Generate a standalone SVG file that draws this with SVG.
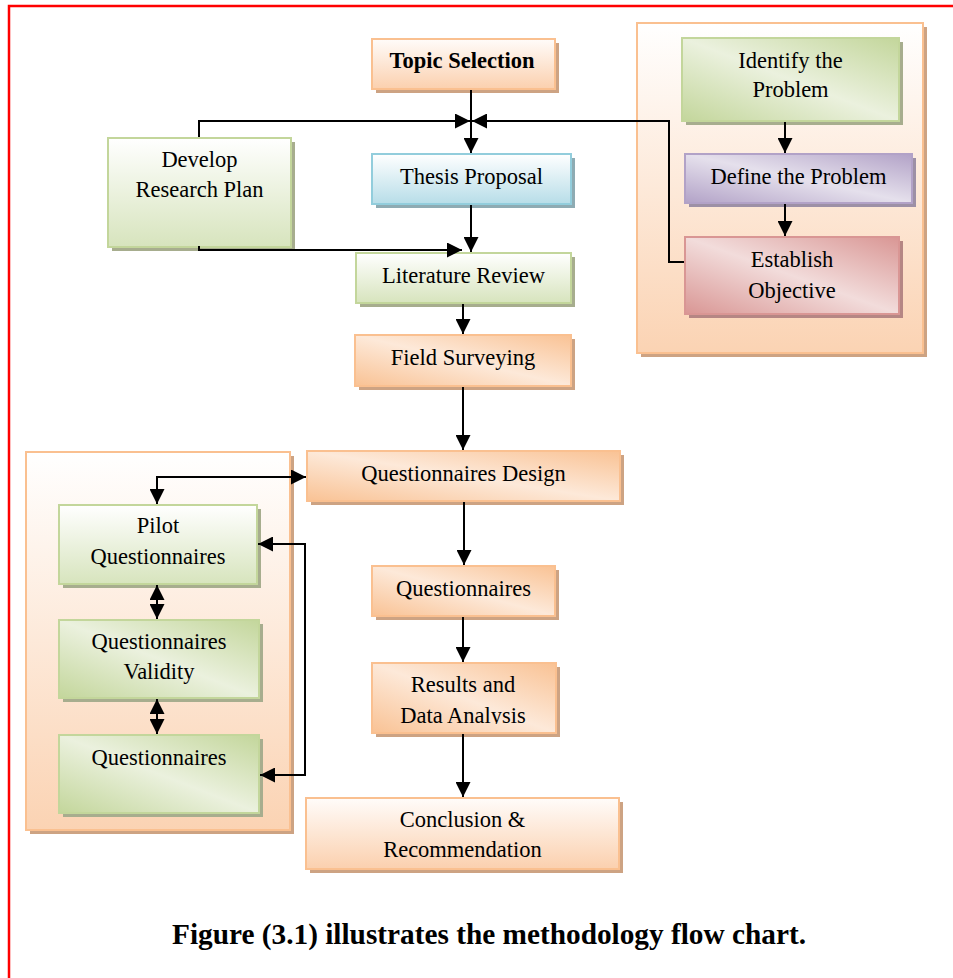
<svg xmlns="http://www.w3.org/2000/svg" width="953" height="978" viewBox="0 0 953 978">
<style>
text{font-family:"Liberation Serif","Times New Roman",serif;font-size:22.5px;fill:#000;text-anchor:middle}
.b{font-weight:bold}
.cap{font-weight:bold;font-size:30px}
.conn{fill:none;stroke:#000;stroke-width:2}
.o{stroke:#fac090;stroke-width:2}
.g{stroke:#c3d69b;stroke-width:2}
.bl{stroke:#92cddc;stroke-width:2}
.pu{stroke:#b2a2c7;stroke-width:2}
.rd{stroke:#d99694;stroke-width:2}
.so{fill:#cda383}
.sg{fill:#a7ad8e}
.sb{fill:#8eabb3}
.sp{fill:#9d90a6}
.sr{fill:#b58684}
</style>
<defs>
<linearGradient id="oV" x1="0" y1="0" x2="0" y2="1"><stop offset="0" stop-color="#fffcfa"/><stop offset="1" stop-color="#fbd0ae"/></linearGradient>
<linearGradient id="oD" x1="0" y1="1" x2="1" y2="0"><stop offset="0" stop-color="#f9c294"/><stop offset="0.5" stop-color="#fde9d9"/><stop offset="1" stop-color="#f9c294"/></linearGradient>
<linearGradient id="gV" x1="0" y1="0" x2="0" y2="1"><stop offset="0" stop-color="#ffffff"/><stop offset="1" stop-color="#d7e4bd"/></linearGradient>
<linearGradient id="gD" x1="0" y1="1" x2="1" y2="0"><stop offset="0" stop-color="#c3d69b"/><stop offset="0.5" stop-color="#ebf1de"/><stop offset="1" stop-color="#c3d69b"/></linearGradient>
<linearGradient id="bV" x1="0" y1="0" x2="0" y2="1"><stop offset="0" stop-color="#ffffff"/><stop offset="1" stop-color="#b7dde8"/></linearGradient>
<linearGradient id="pD" x1="0" y1="1" x2="1" y2="0"><stop offset="0" stop-color="#b2a2c7"/><stop offset="0.5" stop-color="#e5e0ec"/><stop offset="1" stop-color="#b2a2c7"/></linearGradient>
<linearGradient id="rD" x1="0" y1="1" x2="1" y2="0"><stop offset="0" stop-color="#d99694"/><stop offset="0.5" stop-color="#f2dcdb"/><stop offset="1" stop-color="#d99694"/></linearGradient>
<linearGradient id="cV" x1="0" y1="0" x2="0" y2="1"><stop offset="0" stop-color="#ffffff"/><stop offset="1" stop-color="#fbd3b3"/></linearGradient>
<marker id="ah" markerUnits="userSpaceOnUse" markerWidth="15" markerHeight="15" refX="15" refY="7.5" orient="auto-start-reverse" viewBox="0 0 15 15"><path d="M0,0 L15,7.5 L0,15 z" fill="#000"/></marker>
<clipPath id="clipRes"><rect x="372" y="663" width="184" height="61"/></clipPath>
</defs>

<rect x="9" y="6" width="960" height="990" fill="none" stroke="#ff0000" stroke-width="2.5"/>

<g id="group-right">
<rect x="641" y="27" width="286" height="330" class="so"/>
<rect x="637" y="23" width="286" height="330" fill="url(#cV)" class="o"/>
</g>
<g id="group-left">
<rect x="30" y="456" width="264" height="378" class="so"/>
<rect x="26" y="452" width="264" height="378" fill="url(#cV)" class="o"/>
</g>

<g id="topic-selection">
<rect x="376" y="43" width="183" height="50" class="so"/>
<rect x="372" y="39" width="183" height="50" fill="url(#oV)" class="o"/>
<text class="b" x="462" y="68">Topic Selection</text>
</g>
<g id="thesis-proposal">
<rect x="376" y="158" width="199" height="50" class="sb"/>
<rect x="372" y="154" width="199" height="50" fill="url(#bV)" class="bl"/>
<text x="471.5" y="184">Thesis Proposal</text>
</g>
<g id="develop-research-plan">
<rect x="112" y="142" width="183" height="109" class="sg"/>
<rect x="108" y="138" width="183" height="109" fill="url(#gV)" class="g"/>
<text x="199.5" y="167">Develop</text>
<text x="199.5" y="197">Research Plan</text>
</g>
<g id="literature-review">
<rect x="360" y="257" width="215" height="50" class="sg"/>
<rect x="356" y="253" width="215" height="50" fill="url(#gV)" class="g"/>
<text x="463.5" y="283">Literature Review</text>
</g>
<g id="field-surveying">
<rect x="359" y="339" width="216" height="51" class="so"/>
<rect x="355" y="335" width="216" height="51" fill="url(#oD)" class="o"/>
<text x="463" y="365">Field Surveying</text>
</g>
<g id="identify-problem">
<rect x="686" y="42" width="217" height="83" class="sg"/>
<rect x="682" y="38" width="217" height="83" fill="url(#gD)" class="g"/>
<text x="790.5" y="68">Identify the</text>
<text x="790.5" y="97">Problem</text>
</g>
<g id="define-problem">
<rect x="689" y="158" width="227" height="49" class="sp"/>
<rect x="685" y="154" width="227" height="49" fill="url(#pD)" class="pu"/>
<text x="798.5" y="184">Define the Problem</text>
</g>
<g id="establish-objective">
<rect x="689" y="241" width="214" height="77" class="sr"/>
<rect x="685" y="237" width="214" height="77" fill="url(#rD)" class="rd"/>
<text x="792" y="267">Establish</text>
<text x="792" y="298">Objective</text>
</g>
<g id="questionnaires-design">
<rect x="311" y="455" width="313" height="50" class="so"/>
<rect x="307" y="451" width="313" height="50" fill="url(#oD)" class="o"/>
<text x="463.5" y="481">Questionnaires Design</text>
</g>
<g id="pilot-questionnaires">
<rect x="63" y="509" width="198" height="79" class="sg"/>
<rect x="59" y="505" width="198" height="79" fill="url(#gV)" class="g"/>
<text x="158" y="533">Pilot</text>
<text x="158" y="564">Questionnaires</text>
</g>
<g id="questionnaires-validity">
<rect x="63" y="624" width="200" height="78" class="sg"/>
<rect x="59" y="620" width="200" height="78" fill="url(#gD)" class="g"/>
<text x="159" y="649">Questionnaires</text>
<text x="159" y="679">Validity</text>
</g>
<g id="questionnaires-left">
<rect x="63" y="739" width="200" height="78" class="sg"/>
<rect x="59" y="735" width="200" height="78" fill="url(#gD)" class="g"/>
<text x="159" y="765">Questionnaires</text>
</g>
<g id="questionnaires">
<rect x="376" y="570" width="183" height="50" class="so"/>
<rect x="372" y="566" width="183" height="50" fill="url(#oD)" class="o"/>
<text x="463.5" y="596">Questionnaires</text>
</g>
<g id="results-analysis">
<rect x="376" y="667" width="184" height="70" class="so"/>
<rect x="372" y="663" width="184" height="70" fill="url(#oD)" class="o"/>
<g clip-path="url(#clipRes)">
<text x="463" y="692">Results and</text>
<text x="463" y="723">Data Analysis</text>
</g>
</g>
<g id="conclusion">
<rect x="310" y="802" width="313" height="71" class="so"/>
<rect x="306" y="798" width="313" height="71" fill="url(#oV)" class="o"/>
<text x="462.5" y="827">Conclusion &amp;</text>
<text x="462.5" y="857">Recommendation</text>
</g>

<g id="connectors">
<path class="conn" d="M471,90 V153" marker-end="url(#ah)"/>
<path class="conn" d="M199,137 V121 H470" marker-end="url(#ah)"/>
<path class="conn" d="M684,262 H669 V121 H472" marker-end="url(#ah)"/>
<path class="conn" d="M471,205 V252" marker-end="url(#ah)"/>
<path class="conn" d="M199,246 V250 H462" marker-end="url(#ah)"/>
<path class="conn" d="M463,304 V334" marker-end="url(#ah)"/>
<path class="conn" d="M463,387 V450" marker-end="url(#ah)"/>
<path class="conn" d="M464,502 V565" marker-end="url(#ah)"/>
<path class="conn" d="M463,617 V662" marker-end="url(#ah)"/>
<path class="conn" d="M463,734 V797" marker-end="url(#ah)"/>
<path class="conn" d="M785,122 V153" marker-end="url(#ah)"/>
<path class="conn" d="M785,204 V236" marker-end="url(#ah)"/>
<path class="conn" d="M306,477 H157 V504" marker-start="url(#ah)" marker-end="url(#ah)"/>
<path class="conn" d="M157,585 V619" marker-start="url(#ah)" marker-end="url(#ah)"/>
<path class="conn" d="M157,699 V734" marker-start="url(#ah)" marker-end="url(#ah)"/>
<path class="conn" d="M258,544 H305 V775 H260" marker-start="url(#ah)" marker-end="url(#ah)"/>
</g>

<text class="cap" x="489" y="944" textLength="634" lengthAdjust="spacingAndGlyphs">Figure (3.1) illustrates the methodology flow chart.</text>
</svg>
